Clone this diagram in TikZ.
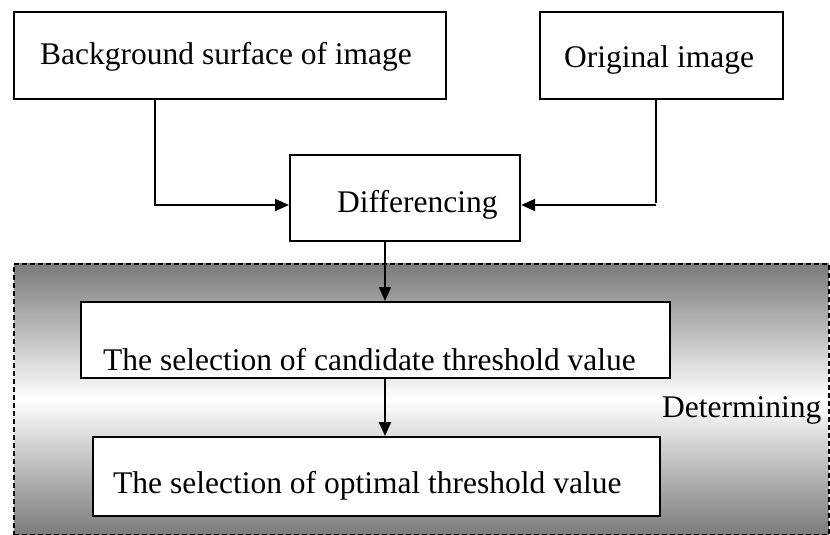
\documentclass[tikz,border=0pt]{standalone}
\usepackage{fontspec}
\setmainfont{Liberation Serif}
\usetikzlibrary{arrows.meta}
\begin{document}
\begin{tikzpicture}[x=1pt,y=-1pt,
  box/.style={draw=black,line width=2.2pt,fill=white,inner sep=0pt,anchor=north west},
  lbl/.style={anchor=base west,inner sep=0pt,font=\fontsize{31.5}{36}\selectfont},
  conn/.style={line width=2pt},
  arr/.style={conn,-{Triangle[length=14pt,width=12pt]}},
  zone/.style={draw=black,line width=1.6pt,dash pattern=on 5pt off 3pt,
    top color=black!52,bottom color=black!52,middle color=white}]
\useasboundingbox (0,0) rectangle (830,535);

% shaded stage for the threshold determination
\node[zone,anchor=north west,inner sep=0pt,minimum width=815pt,minimum height=271pt] (zone) at (13,263) {};

% boxes
\node[box,minimum width=432pt,minimum height=87pt] (bg) at (13,11) {};
\node[box,minimum width=243pt,minimum height=87pt] (orig) at (539,11) {};
\node[box,minimum width=230pt,minimum height=86pt] (diff) at (289,154) {};
\node[box,minimum width=589pt,minimum height=76pt] (cand) at (80,301) {};
\node[box,minimum width=567pt,minimum height=79pt] (opt) at (92,436) {};

% texts
\node[lbl] (bg-t) at (40,65) {Background surface of image};
\node[lbl] (orig-t) at (564,68) {Original image};
\node[lbl] (diff-t) at (337,212) {Differencing};
\node[lbl] (cand-t) at (103,370) {The selection of candidate threshold value};
\node[lbl] (opt-t) at (113,493) {The selection of optimal threshold value};
\node[lbl] (det-t) at (662,417) {Determining};

% connectors
\coordinate (bgturn) at (155,205);
\coordinate (origturn) at (656,205);
\draw[conn] (bg.south -| bgturn) -- (bgturn);
\draw[arr] ([xshift=-1pt]bgturn) -- (bgturn -| diff.west);
\draw[conn] (orig.south -| origturn) -- ([yshift=2pt]origturn);
\draw[arr] (origturn) -- (origturn -| diff.east);
\coordinate (mid) at (385,0);
\draw[arr] (diff.south -| mid) -- (cand.north -| mid);
\draw[arr] (cand.south -| mid) -- (opt.north -| mid);
\end{tikzpicture}
\end{document}
